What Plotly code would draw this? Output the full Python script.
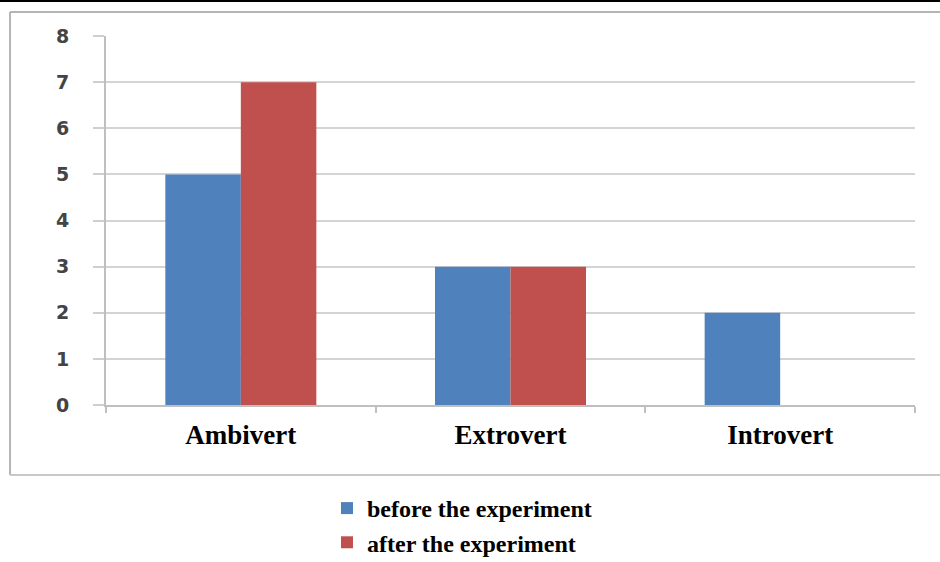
import plotly.graph_objects as go

categories = ["Ambivert", "Extrovert", "Introvert"]
before_vals = [5, 3, 2]
after_vals = [7, 3, 0]
series_names = ["before the experiment", "after the experiment"]
y_ticks = [0, 1, 2, 3, 4, 5, 6, 7, 8]

L, R, T, B = 106, 25, 36, 157
W, H = 940, 562
pw, ph = W - L - R, H - T - B

def px(x):
    return (x - L) / pw

def py(y):
    return (H - B - y) / ph

fig = go.Figure()
fig.add_trace(go.Bar(x=categories, y=before_vals, name=f"<b>{series_names[0]}</b>",
                     marker=dict(color="#4F81BD", line=dict(width=0))))
fig.add_trace(go.Bar(x=categories, y=after_vals, name=f"<b>{series_names[1]}</b>",
                     marker=dict(color="#C0504D", line=dict(width=0))))

shapes = [
    dict(type="line", xref="paper", yref="paper", x0=px(0), x1=px(W), y0=py(1), y1=py(1),
         line=dict(color="#000000", width=2)),
    dict(type="line", xref="paper", yref="paper", x0=px(10), x1=px(W), y0=py(12), y1=py(12),
         line=dict(color="#b5b5b5", width=2)),
    dict(type="line", xref="paper", yref="paper", x0=px(10), x1=px(10), y0=py(12), y1=py(475),
         line=dict(color="#b5b5b5", width=2)),
    dict(type="line", xref="paper", yref="paper", x0=px(10), x1=px(W), y0=py(475), y1=py(475),
         line=dict(color="#c8c8c8", width=2)),
]

fig.update_layout(
    width=W, height=H,
    margin=dict(l=L, r=R, t=T, b=B, autoexpand=False),
    paper_bgcolor="white", plot_bgcolor="white",
    barmode="group", bargap=0.44, bargroupgap=0,
    shapes=shapes,
    showlegend=True,
    legend=dict(orientation="v", xref="container", yref="container",
                x=327 / W, y=1 - 486 / H, xanchor="left", yanchor="top",
                font=dict(family="Liberation Serif", size=24, color="#000000"),
                tracegroupgap=0, bgcolor="rgba(0,0,0,0)", borderwidth=0),
    xaxis=dict(showline=True, linecolor="#bfbfbf", linewidth=2,
               ticks="outside", tickson="boundaries", ticklen=6, tickcolor="#bfbfbf",
               tickwidth=2,
               tickvals=categories, ticktext=[f"<b>{c}</b>" for c in categories],
               tickfont=dict(family="Liberation Serif", size=27, color="#000000"),
               ticklabelstandoff=5,
               showgrid=False),
    yaxis=dict(range=[0, 8], tickvals=y_ticks, ticktext=[f"<b>{v}</b>" for v in y_ticks],
               showline=True, linecolor="#bfbfbf", linewidth=2,
               ticks="outside", ticklen=11, tickcolor="#cfcfcf", tickwidth=2,
               showgrid=True, gridcolor="#d4d4d4", gridwidth=2, zeroline=False,
               tickfont=dict(family="DejaVu Sans", size=19, color="#444444"),
               ticklabelstandoff=20),
    font=dict(family="Liberation Serif"),
)

fig.write_html("out.html", config={"displayModeBar": False},
               post_script="document.body.style.margin='0';document.body.style.overflow='hidden';")
